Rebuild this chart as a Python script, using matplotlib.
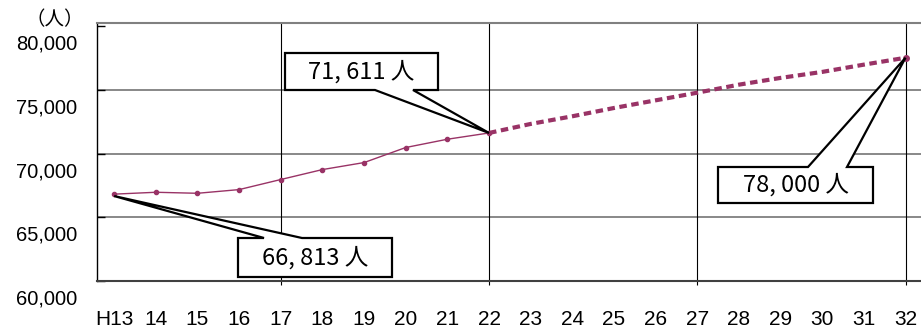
import matplotlib
matplotlib.use('agg')
import matplotlib.pyplot as plt
from matplotlib.patches import Polygon
from matplotlib.transforms import offset_copy, IdentityTransform

# data
actual_years = [13, 14, 15, 16, 17, 18, 19, 20, 21, 22]
actual_values = [66813, 66960, 66880, 67170, 67960, 68740, 69290, 70470, 71120, 71611]
proj_years = [22, 23, 24, 25, 26, 27, 28, 29, 30, 31, 32]
proj_values = [71611, 72320, 72920, 73570, 74170, 74770, 75400, 75930, 76400, 76970, 77510]
x_labels = ['H13'] + [str(y) for y in range(14, 33)]
y_ticks = [60000, 65000, 70000, 75000, 80000]
y_labels = ['60,000', '65,000', '70,000', '75,000', '80,000']
vlines = [17, 22, 27, 32]
callout_texts = ['66, 813 人', '71, 611 人', '78, 000 人']

W, H = 921, 331
LINE = '#993366'
JP = ['Noto Sans CJK JP', 'DejaVu Sans']

fig = plt.figure(figsize=(W / 100, H / 100), dpi=100)
ax = fig.add_axes([97 / W, 50 / H, (W - 97) / W, (281 - 22.7) / H])
ax.set_xlim(12.587, 32.372)
ax.set_ylim(60000, 80260)

# grid
for v in [65000, 70000, 75000]:
    ax.axhline(v, color='#7f7f7f', lw=1.3, zorder=1)
for v in vlines:
    ax.axvline(v, color='black', lw=0.8, zorder=1)

# spines
ax.spines['right'].set_visible(False)
ax.spines['left'].set_color('black')
ax.spines['left'].set_linewidth(1.0)
ax.spines['bottom'].set_color('#404040')
ax.spines['bottom'].set_linewidth(1.5)
ax.spines['top'].set_color('#808080')
ax.spines['top'].set_linewidth(1.5)

# y ticks: inward, labels drawn lower than the gridline like the original
ax.set_yticks(y_ticks)
ax.set_yticklabels([])
ax.tick_params(axis='y', direction='in', length=6, width=1, color='black')
trans = offset_copy(ax.get_yaxis_transform(), fig=fig, x=-20, y=-18, units='dots')
for v, lab in zip(y_ticks, y_labels):
    ax.text(0, v, lab, transform=trans, ha='right', va='center',
            fontsize=14.5, family=['Liberation Sans', 'DejaVu Sans'], clip_on=False)

# x ticks
ax.set_xticks(actual_years + proj_years[1:])
ax.set_xticklabels(x_labels, fontsize=15, family=['Liberation Sans Narrow', 'Liberation Sans'])
ax.tick_params(axis='x', length=0, pad=21)
ax.set_xticks(vlines, minor=True)
ax.xaxis.remove_overlapping_locs = False
ax.tick_params(axis='x', which='minor', direction='out', length=3, width=0.8, color='black')

# lines
ax.plot(actual_years, actual_values, color=LINE, lw=1.0, marker='o', ms=3, zorder=3)
ax.plot(proj_years, proj_values, color=LINE, lw=3.0, linestyle=(0, (1.8, 1.1)),
        dash_capstyle='butt', zorder=3)
ax.plot([proj_years[-1]], [proj_values[-1]], color=LINE, marker='o', ms=4, zorder=3)

fig.text(55 / W, 1 - 20 / H, '（人）', ha='center', va='center', fontsize=14, family=JP)


# callouts (box + wedge), boxes placed in pixels, tips at data points
def callout(text, box, base, tip_data, side):
    x0, y0, x1, y1 = box
    tx, ty = ax.transData.transform(tip_data)
    ty = H - ty
    if side == 'top':
        pts = [(x0, y0), (base[0], y0), (tx, ty), (base[1], y0), (x1, y0), (x1, y1), (x0, y1)]
    else:
        pts = [(x0, y0), (x1, y0), (x1, y1), (base[1], y1), (tx, ty), (base[0], y1), (x0, y1)]
    pts = [(px, H - py) for px, py in pts]
    poly = Polygon(pts, closed=True, facecolor='white', edgecolor='black', lw=1.6,
                   transform=IdentityTransform(), clip_on=False, zorder=5)
    fig.add_artist(poly)
    fig.text((x0 + x1) / 2 / W, 1 - (y0 + y1) / 2 / H, text, ha='center', va='center',
             fontsize=17, family=JP, zorder=6)


callout(callout_texts[0], (238, 238, 392, 277), (264, 302), (13, actual_values[0] - 150), 'top')
callout(callout_texts[1], (285, 53, 438, 90), (375, 413), (22, actual_values[-1]), 'bottom')
callout(callout_texts[2], (718, 167, 873, 203), (808, 847), (32, proj_values[-1]), 'top')

fig.savefig('out.png', dpi=100)
